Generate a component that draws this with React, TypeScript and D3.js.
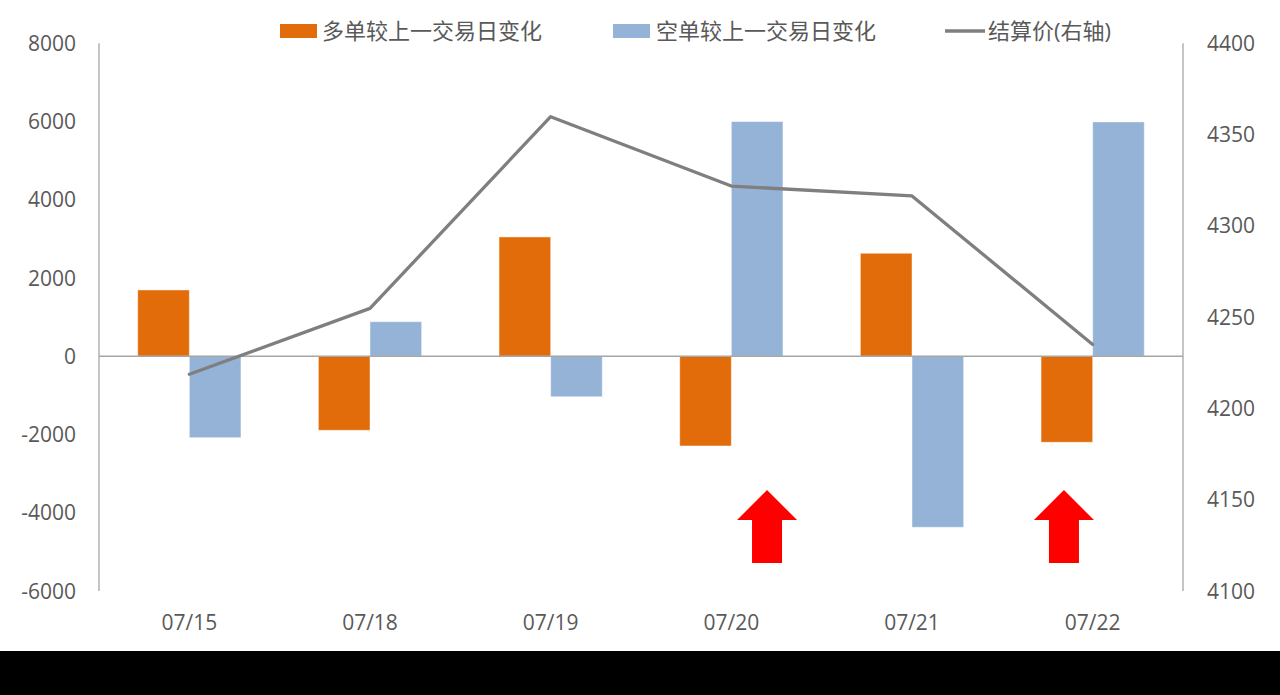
import React from "react";
import * as d3 from "d3";

const categories = ["07/15", "07/18", "07/19", "07/20", "07/21", "07/22"];
const longChange = [1695, -1892, 3050, -2293, 2633, -2198];
const shortChange = [-2081, 884, -1035, 6000, -4371, 5990];
const settlePrice = [4218.7, 4254.8, 4359.8, 4321.8, 4316.4, 4235];
const leftTicks = [-6000, -4000, -2000, 0, 2000, 4000, 6000, 8000];
const rightTicks = [4100, 4150, 4200, 4250, 4300, 4350, 4400];
const seriesNames = ["多单较上一交易日变化", "空单较上一交易日变化", "结算价(右轴)"];
const arrowCategories = ["07/20", "07/22"];

const W = 1280;
const H = 695;
const LEFT = 99;
const RIGHT = 1183;
const TOP = 43.3;
const BOTTOM = 591;
const ORANGE = "#E36C0A";
const BLUE = "#95B3D7";
const GRAY_LINE = "#7F7F7F";
const AXIS = "#A6A6A6";
const TEXT = "#595959";
const FONT = "'Open Sans', 'Noto Sans CJK SC', sans-serif";

export default function App() {
  const x = d3.scaleBand<string>().domain(categories).range([LEFT, RIGHT]).padding(0);
  const bw = x.bandwidth();
  const barW = bw / 3.5;
  const inner = d3.scaleBand<string>().domain(["long", "short"]).range([bw / 2 - barW, bw / 2 + barW]).padding(0);
  const yL = d3.scaleLinear().domain([-6000, 8000]).range([BOTTOM, TOP]);
  const yR = d3.scaleLinear().domain([4100, 4400]).range([BOTTOM, TOP]);

  const line = d3
    .line<number>()
    .x((_, i) => (x(categories[i]) as number) + bw / 2)
    .y((d) => yR(d));

  const bars = (vals: number[], key: string, color: string) =>
    vals.map((v, i) => {
      const x0 = (x(categories[i]) as number) + (inner(key) as number);
      const y0 = Math.min(yL(v), yL(0));
      const h = Math.abs(yL(v) - yL(0));
      return (
        <rect
          key={key + i}
          x={x0}
          y={y0}
          width={inner.bandwidth()}
          height={h}
          fill={color}
          stroke="rgba(255,255,255,0.45)"
          strokeWidth={1}
        />
      );
    });

  const arrowOffsets = [35.7, -28.7];
  const arrow = (cx: number) => {
    const tip = 490, base = 520, bottom = 563, hw = 30, sw = 15;
    const pts = [
      [cx, tip],
      [cx + hw, base],
      [cx + sw, base],
      [cx + sw, bottom],
      [cx - sw, bottom],
      [cx - sw, base],
      [cx - hw, base],
    ];
    return pts.map((p) => p.join(",")).join(" ");
  };

  return (
    <svg
      width={W}
      height={H}
      style={{ position: "absolute", left: 0, top: 0, background: "#fff" }}
      fontFamily={FONT}
    >
      <rect x={0} y={0} width={W} height={H} fill="#fff" />
      {/* axes */}
      <line x1={LEFT} x2={LEFT} y1={TOP} y2={BOTTOM} stroke={AXIS} strokeWidth={1.3} />
      <line x1={RIGHT} x2={RIGHT} y1={TOP} y2={BOTTOM} stroke={AXIS} strokeWidth={1.3} />
      {leftTicks.map((t) => (
        <text key={"l" + t} x={76} y={yL(t) + 7.5} textAnchor="end" fontSize={21} fill={TEXT}>
          {t}
        </text>
      ))}
      {rightTicks.map((t) => (
        <text key={"r" + t} x={1207} y={yR(t) + 7.5} textAnchor="start" fontSize={21} fill={TEXT}>
          {t}
        </text>
      ))}
      {categories.map((c) => (
        <text key={"c" + c} x={(x(c) as number) + bw / 2} y={630} textAnchor="middle" fontSize={21} fill={TEXT}>
          {c}
        </text>
      ))}
      {/* bars */}
      {bars(longChange, "long", ORANGE)}
      {bars(shortChange, "short", BLUE)}
      {/* zero line */}
      <line x1={LEFT} x2={RIGHT} y1={yL(0)} y2={yL(0)} stroke={AXIS} strokeWidth={1.3} />
      {/* settle price line */}
      <path
        d={line(settlePrice) as string}
        fill="none"
        stroke={GRAY_LINE}
        strokeWidth={3.3}
        strokeLinejoin="round"
        strokeLinecap="round"
      />
      {/* arrows */}
      {arrowCategories.map((c, i) => (
        <polygon key={"a" + c} points={arrow((x(c) as number) + bw / 2 + arrowOffsets[i])} fill="#FF0000" />
      ))}
      {/* legend */}
      <rect x={280} y={24} width={37} height={14} fill={ORANGE} />
      <text x={322} y={39} fontSize={22} fill={TEXT}>{seriesNames[0]}</text>
      <rect x={613} y={24} width={37} height={14} fill={BLUE} />
      <text x={656} y={39} fontSize={22} fill={TEXT}>{seriesNames[1]}</text>
      <line x1={945} x2={985} y1={31} y2={31} stroke={GRAY_LINE} strokeWidth={3.3} />
      <text x={988} y={39} fontSize={22} fill={TEXT}>{seriesNames[2]}</text>
      {/* black band at bottom */}
      <rect x={0} y={651} width={W} height={H - 651} fill="#000" />
    </svg>
  );
}
